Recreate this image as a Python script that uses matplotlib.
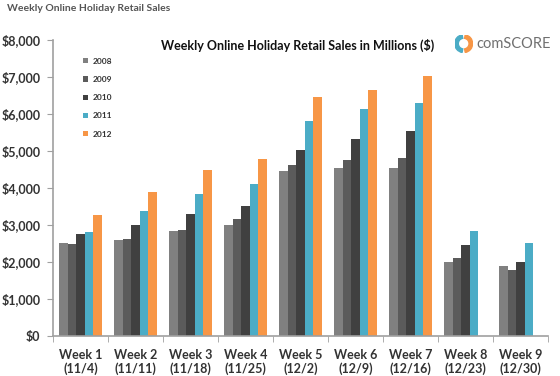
import matplotlib
matplotlib.use("Agg")
import matplotlib.pyplot as plt
import numpy as np
from matplotlib.patches import Wedge

plt.rcParams['font.family'] = ['Lato', 'DejaVu Sans']

weeks = ["Week 1\n(11/4)", "Week 2\n(11/11)", "Week 3\n(11/18)", "Week 4\n(11/25)",
         "Week 5\n(12/2)", "Week 6\n(12/9)", "Week 7\n(12/16)", "Week 8\n(12/23)", "Week 9\n(12/30)"]
years = ["2008", "2009", "2010", "2011", "2012"]
s2008 = [2510, 2590, 2830, 2990, 4460, 4540, 4540, 2000, 1890]
s2009 = [2500, 2620, 2860, 3160, 4620, 4750, 4810, 2100, 1780]
s2010 = [2750, 3000, 3300, 3520, 5030, 5320, 5540, 2460, 2000]
s2011 = [2800, 3380, 3840, 4100, 5810, 6130, 6300, 2840, 2510]
s2012 = [3260, 3890, 4480, 4790, 6450, 6650, 7030, np.nan, np.nan]
colors = ["#808080", "#5b5b5b", "#404040", "#4bacc6", "#f79646"]
series = [s2008, s2009, s2010, s2011, s2012]

fig = plt.figure(figsize=(5.6, 3.76), dpi=100)
ax = fig.add_axes([0.0946, 0.106, 0.884, 0.788])

x = np.arange(len(weeks))
bw = 0.155
for i, (s, c, y) in enumerate(zip(series, colors, years)):
    ax.bar(x + (i - 2) * bw, s, width=bw, color=c, label=y, linewidth=0)

ax.set_xlim(-0.5, len(weeks) - 0.5)
ax.set_ylim(0, 8000)
ax.set_yticks(range(0, 8001, 1000))
ax.set_yticklabels(["$" + format(v, ",") for v in range(0, 8001, 1000)],
                   fontsize=9, fontweight="bold", color="#333333")
ax.set_xticks(x)
ax.set_xticklabels(weeks, fontsize=9, fontweight="bold", color="#333333")
ax.tick_params(axis="x", length=0, pad=9)
ax.set_xticks(np.arange(-0.5, len(weeks), 1), minor=True)
ax.tick_params(axis="x", which="minor", length=4, color="#a0a0a0")
ax.tick_params(axis="y", length=4, color="#a0a0a0", pad=5)
for sp in ["top", "right"]:
    ax.spines[sp].set_visible(False)
for sp in ["left", "bottom"]:
    ax.spines[sp].set_color("#a0a0a0")
    ax.spines[sp].set_linewidth(1.2)

leg = ax.legend(loc="upper left", bbox_to_anchor=(0.045, 0.965), frameon=False,
                fontsize=6, handlelength=0.6, handleheight=0.6, labelspacing=1.35,
                handletextpad=0.6)
for t in leg.get_texts():
    t.set_fontweight("bold")
    t.set_color("#333333")

fig.text(0.532, 0.878, "Weekly Online Holiday Retail Sales in Millions ($)",
         ha="center", va="center", fontsize=9, fontweight="bold", color="#111111")
fig.text(0.012, 0.978, "Weekly Online Holiday Retail Sales", ha="left", va="center",
         fontsize=7.5, fontweight="bold", color="#555555")

# comScore logo
lax = fig.add_axes([0.812, 0.86, 0.032, 0.048])
lax.set_xlim(-1, 1); lax.set_ylim(-1, 1); lax.set_aspect("equal"); lax.axis("off")
lax.add_patch(Wedge((0, 0), 1, 100, 260, width=0.4, color="#4bacc6"))
lax.add_patch(Wedge((0, 0), 1, 280, 80, width=0.4, color="#f79646"))
fig.text(0.85, 0.884, "comSCORE", ha="left", va="center", fontsize=10.5, color="#707070")

fig.savefig("out.png", dpi=100)
